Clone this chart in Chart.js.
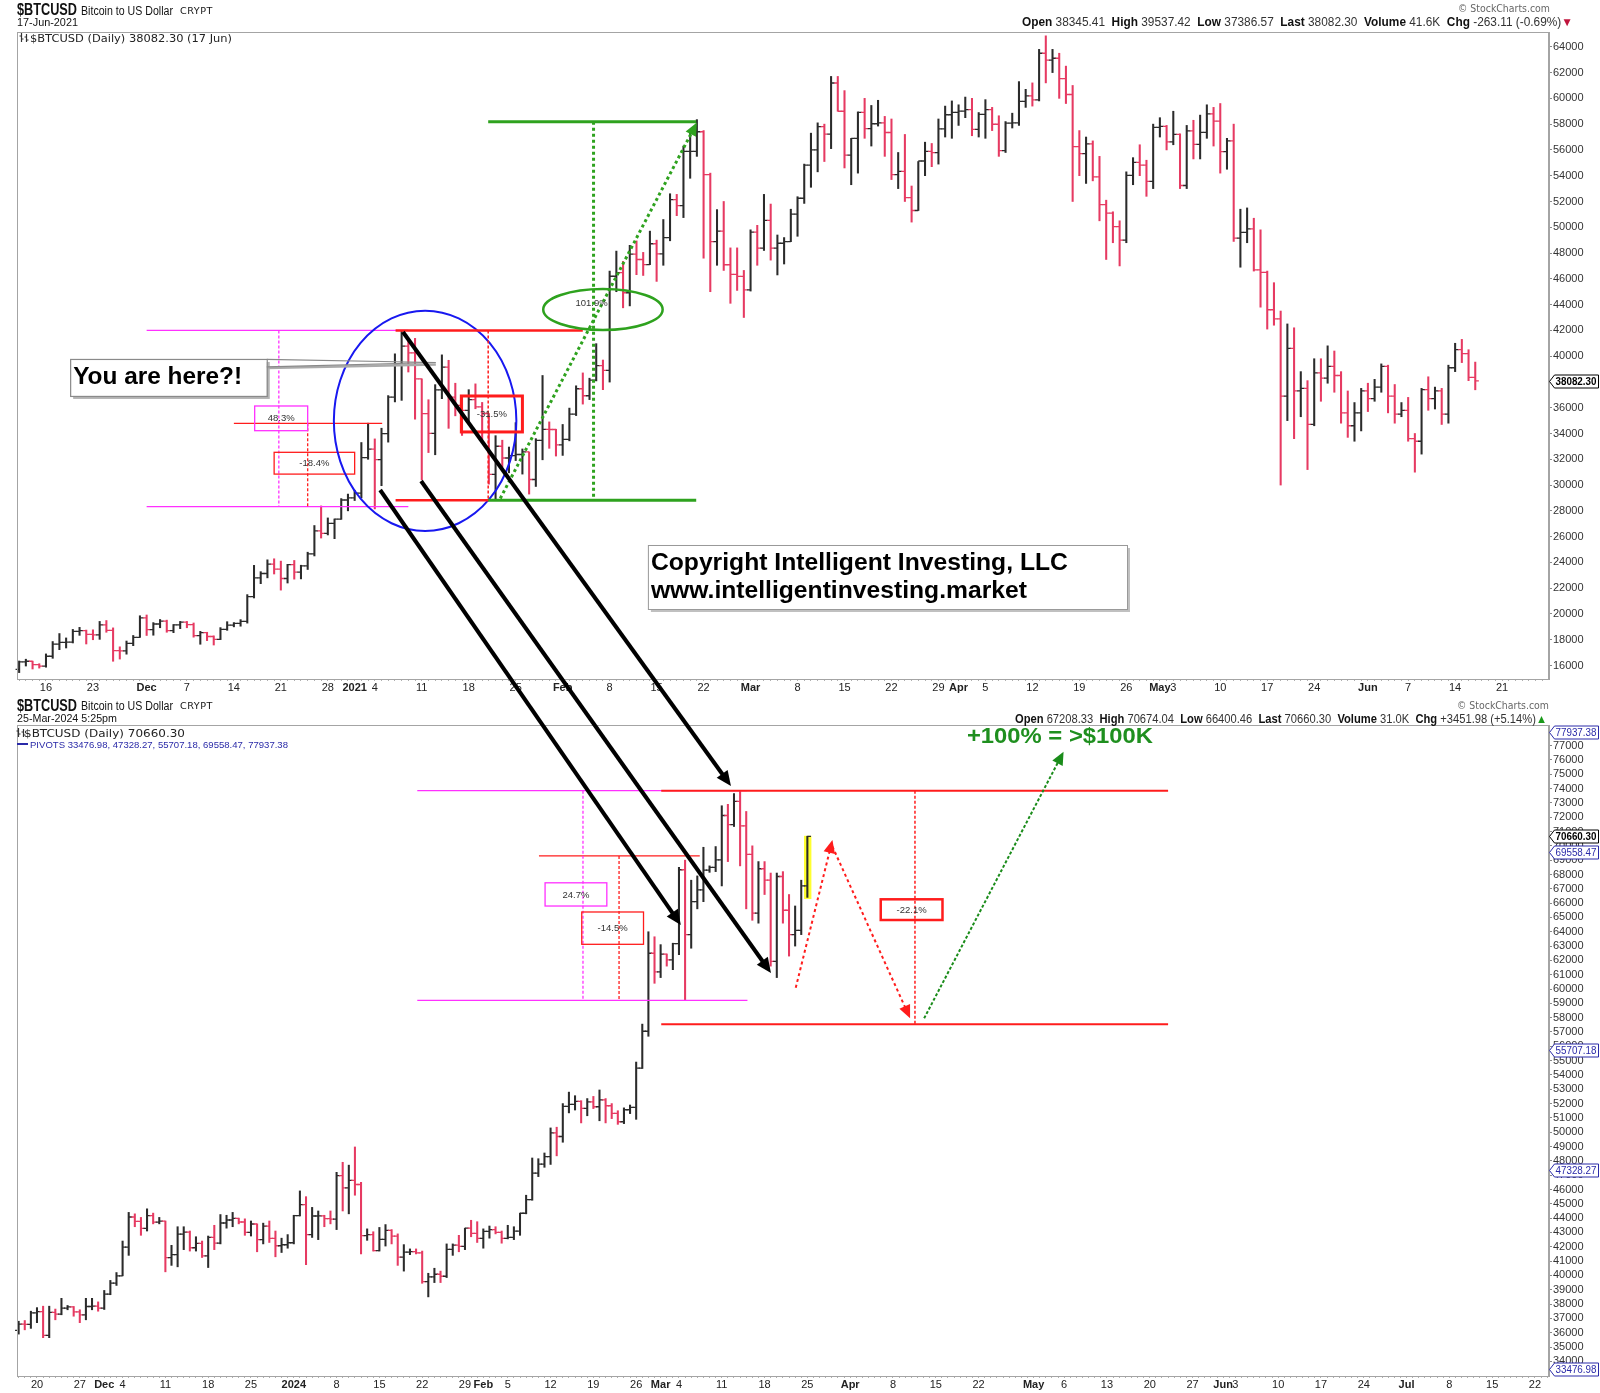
<!DOCTYPE html>
<html>
<head>
<meta charset="utf-8">
<title>$BTCUSD daily bars</title>
<script src="https://cdn.jsdelivr.net/npm/chart.js@4.4.1/dist/chart.umd.min.js"></script>
<style>
  html, body { margin: 0; padding: 0; background: #fff; }
  body { position: relative; width: 1600px; height: 1393px; overflow: hidden; font-family: "Liberation Sans", Arial, sans-serif; color: #111; }
  canvas { position: absolute; left: 0; }
  #topChart { top: 0; }
  #botChart { top: 690px; }
  #overlay { top: 0; z-index: 5; pointer-events: none; }
  .h { position: absolute; white-space: nowrap; line-height: 1; transform-origin: left center; z-index: 3; }
  .sym { font-weight: bold; font-size: 16px; }
  .name { font-size: 12.5px; }
  .exch { font-family: "DejaVu Sans", sans-serif; font-size: 9px; letter-spacing: .5px; }
  .date { font-size: 11.5px; }
  .sc { font-family: "DejaVu Sans", sans-serif; font-size: 10px; color: #666; }
  .stats { font-size: 12px; color: #333; }
  .stats b { color: #111; }
  .leg { font-family: "DejaVu Sans", sans-serif; font-size: 10.5px; color: #222; }
  .piv { font-size: 9.5px; color: #2a2aa8; }
  .icon { position: absolute; z-index: 3; }
</style>
</head>
<body>
<canvas id="topChart" width="1600" height="700"></canvas>
<canvas id="botChart" width="1600" height="703"></canvas>
<canvas id="overlay" width="1600" height="1393"></canvas>

<!-- top panel header -->
<div class="h sym" style="left:17px;top:2px" data-w="60">$BTCUSD</div>
<div class="h name" style="left:81px;top:4.5px" data-w="92">Bitcoin to US Dollar</div>
<div class="h exch" style="left:180px;top:6.5px" data-w="33">CRYPT</div>
<div class="h date" style="left:17px;top:16.5px" data-w="61">17-Jun-2021</div>
<div class="h sc" data-r="1550" style="top:4px" data-w="92">© StockCharts.com</div>
<div class="h stats" data-r="1573" style="top:16px" data-w="551"><b>Open</b> 38345.41 &nbsp;<b>High</b> 39537.42 &nbsp;<b>Low</b> 37386.57 &nbsp;<b>Last</b> 38082.30 &nbsp;<b>Volume</b> 41.6K &nbsp;<b>Chg</b> -263.11 (-0.69%)<span style="color:#c0143c">▼</span></div>
<svg class="icon" style="left:19px;top:32px" width="10" height="11"><path d="M2.5 1v9M0.5 4h2M2.5 7h2M7.5 2v8M5.5 5h2M7.5 8h2" stroke="#333" stroke-width="1.2" fill="none"/></svg>
<div class="h leg" style="left:30px;top:32.5px" data-w="202">$BTCUSD (Daily) 38082.30 (17 Jun)</div>

<!-- bottom panel header -->
<div class="h sym" style="left:17px;top:697.5px" data-w="60">$BTCUSD</div>
<div class="h name" style="left:81px;top:700px" data-w="92">Bitcoin to US Dollar</div>
<div class="h exch" style="left:180px;top:702px" data-w="33">CRYPT</div>
<div class="h date" style="left:17px;top:713px" data-w="100">25-Mar-2024 5:25pm</div>
<div class="h sc" data-r="1549" style="top:700.7px" data-w="92">© StockCharts.com</div>
<div class="h stats" data-r="1547" style="top:713px" data-w="532"><b>Open</b> 67208.33 &nbsp;<b>High</b> 70674.04 &nbsp;<b>Low</b> 66400.46 &nbsp;<b>Last</b> 70660.30 &nbsp;<b>Volume</b> 31.0K &nbsp;<b>Chg</b> +3451.98 (+5.14%)<span style="color:#1a9a1a">▲</span></div>
<svg class="icon" style="left:16px;top:727px" width="10" height="11"><path d="M2.5 1v9M0.5 4h2M2.5 7h2M7.5 2v8M5.5 5h2M7.5 8h2" stroke="#333" stroke-width="1.2" fill="none"/></svg>
<div class="h leg" style="left:24px;top:727.5px" data-w="161">$BTCUSD (Daily) 70660.30</div>
<svg class="icon" style="left:17px;top:742px" width="12" height="4"><path d="M0 2h11" stroke="#2a2aa8" stroke-width="2"/></svg>
<div class="h piv" style="left:30px;top:739.5px" data-w="258">PIVOTS 33476.98, 47328.27, 55707.18, 69558.47, 77937.38</div>

<script>
// ---- top panel: $BTCUSD daily, 12 Nov 2020 (day 0) to 17 Jun 2021 (day 217)
const topOpen = [
  15700,16290,16330,16070,15960,16720,17660,17800,17820,18650,18700,18420,18370,19160,18730,17150,17140,17720,18180,
  19700,18790,19220,19450,18700,19150,19360,19170,18320,18550,18250,18030,18800,19140,19270,19430,21340,22800,23140,23860,23480,22750,23820,23240,23730,24660,26440,26250,27030,27360,28840,
  29000,29370,32130,32780,31970,33990,36820,39370,40780,40250,38240,35540,34010,37390,39150,36820,36180,35790,36630,36070,35550,30830,33010,32100,32290,32370,32570,30430,33470,34320,34310,
  33110,33540,35510,37470,36930,38140,39270,38900,46200,46480,44920,47910,47500,47100,48720,47940,49200,52150,51680,55890,55890,57410,54090,48890,49700,47090,46340,46190,
  45140,49630,48380,50540,48380,48760,48880,51020,52250,54820,56010,57810,57230,61190,59000,55600,56900,58910,57650,58030,58100,57350,54080,54340,52300,51300,55140,55880,55790,57630,58730,
  58920,59010,59130,57600,58760,59130,57990,55950,58080,58100,59770,60200,59890,63500,62970,63110,61530,60300,56250,55720,56470,53910,51760,51090,50050,49000,54020,55030,54820,53560,
  57750,57830,56630,57210,53240,57470,56430,57360,58800,58230,55860,56700,49150,49600,49880,46700,46500,43600,42900,36900,40600,37300,37500,34700,38700,38300,39200,38500,35600,34600,35600,
  37300,36700,37600,39200,36900,35500,35800,33600,33400,37400,36700,37300,35500,39100,40500,40200,38350
];
const topHigh = [
  16350,16490,16340,16140,16900,17860,18480,18140,18800,18960,18750,18770,19420,19490,18920,17450,17900,18330,19860,
  19920,19330,19570,19520,19180,19420,19420,19300,18650,18580,18300,18940,19400,19330,19560,21500,23770,23280,24200,24280,24100,23850,24150,23780,24790,26860,28380,27450,27370,28950,29300,
  29600,33300,34800,33580,34410,36940,40180,41950,41350,41380,38240,36620,37790,40100,39680,37900,36800,37400,37850,36410,35550,33830,33480,32950,34840,32800,32570,33600,38500,34900,34330,
  34700,35970,37700,38700,38290,40970,39700,46600,48150,47350,48600,48940,48050,49700,49000,50600,52600,52550,56300,57500,58350,57500,54200,51370,52000,48400,48400,46650,
  49800,50150,52550,51800,49400,49200,51400,52370,54900,57300,58100,58000,61700,61700,60600,56900,58950,60000,59450,59850,58600,58400,55800,57200,53200,55100,56600,56500,58400,59400,59800,
  59500,60100,60000,58900,59900,59300,58650,58200,58850,61300,60700,61200,63800,64850,63800,63500,62500,61000,57500,57000,56700,55500,52100,51200,50500,54300,55400,56400,55200,58000,
  58500,57900,59000,57250,57900,58300,58700,59500,59300,59600,56900,58000,51400,51500,50700,49800,46600,45700,43500,42500,42200,38800,38100,39800,39800,40800,40400,38800,37300,36400,37500,
  37900,38200,39400,39300,37800,36400,36800,34000,37500,38400,37600,37500,39300,41000,41300,40500,39540
];
const topLow = [
  15450,15960,15730,15800,15870,16560,17230,17360,17750,18340,17670,18000,18030,18580,16330,16500,16880,17540,18180,
  18330,18350,18930,18580,18550,18860,18930,18200,17650,17930,17590,18010,18730,19000,19050,19290,21240,22350,22800,23100,21850,22400,22700,22720,23450,24500,25890,26130,25840,27340,28000,
  28800,29000,32000,28150,29950,33330,36450,36570,38770,35110,30420,32520,32350,36700,34400,35370,33850,34780,35920,33400,30070,28850,31400,30950,31900,30850,29300,29890,31960,32850,32250,
  32300,33430,35390,36280,36630,38080,37400,37990,45000,43750,43900,46320,46260,47100,45800,47050,48950,50900,50750,53800,55500,47600,45000,47050,46650,44100,45100,43000,
  45050,47050,48200,47450,46300,47150,48880,49300,51850,53100,54300,55100,56100,59000,54600,53300,54200,56900,56300,57850,55500,53700,53000,52000,50400,51300,54000,54700,54900,57000,56900,
  57900,58500,57100,57000,56900,57500,55500,55800,57700,57900,59300,59400,59800,61200,62000,60000,59600,52000,54000,53400,53600,50500,47500,48800,47000,48800,53300,54000,52400,53000,
  57000,56000,56400,53000,53000,55300,55300,56900,56300,54200,54500,48900,46900,48800,46600,43800,42100,42400,30000,35000,33600,35300,31200,34600,36500,37900,37200,34800,33700,33400,34200,
  35700,36500,37200,35600,34800,35300,33400,31000,32400,35800,35900,34700,34800,38800,39500,38100,37390
];
const topClose = [
  16290,16330,16070,15960,16720,17660,17800,17820,18650,18700,18420,18370,19160,18730,17150,17140,17720,18180,19700,
  18790,19220,19450,18700,19150,19360,19170,18320,18550,18250,18030,18800,19140,19270,19430,21340,22800,23140,23860,23480,22750,23820,23240,23730,24660,26440,26250,27030,27360,28840,29000,
  29370,32130,32780,31970,33990,36820,39370,40780,40250,38240,35540,34010,37390,39150,36820,36180,35790,36630,36070,35550,30830,33010,32100,32290,32370,32570,30430,33470,34320,34310,33110,
  33540,35510,37470,36930,38140,39270,38900,46200,46480,44920,47910,47500,47100,48720,47940,49200,52150,51680,55890,55890,57410,54090,48890,49700,47090,46340,46190,45140,
  49630,48380,50540,48380,48760,48880,51020,52250,54820,56010,57810,57230,61190,59000,55600,56900,58910,57650,58030,58100,57350,54080,54340,52300,51300,55140,55880,55790,57630,58730,58920,
  59010,59130,57600,58760,59130,57990,55950,58080,58100,59770,60200,59890,63500,62970,63110,61530,60300,56250,55720,56470,53910,51760,51090,50050,49000,54020,55030,54820,53560,57750,
  57830,56630,57210,53240,57470,56430,57360,58800,58230,55860,56700,49150,49600,49880,46700,46500,43600,42900,36900,40600,37300,37500,34700,38700,38300,39200,38500,35600,34600,35600,37300,
  36700,37600,39200,36900,35500,35800,33600,33400,37400,36700,37300,35500,39100,40500,40200,38350,38080
];
const topTickDays = [4,11,19,25,32,39,46,50,53,60,67,74,81,88,95,102,109,116,123,130,137,140,144,151,158,165,170,172,179,186,193,201,207,214,221];
const topTickText = ['16','23','Dec','7','14','21','28','2021','4','11','18','25','Feb','8','15','22','Mar','8','15','22','29','Apr','5','12','19','26','May','3','10','17','24','Jun','7','14','21'];
const topPriceTicks = [16000,18000,20000,22000,24000,26000,28000,30000,32000,34000,36000,38000,40000,42000,44000,46000,48000,50000,52000,54000,56000,58000,60000,62000,64000];

// ---- bottom panel: $BTCUSD daily, 17 Nov 2023 (day 0) to 25 Mar 2024 (day 129)
const botOpen = [
  36160,36600,36580,37380,37470,35810,37420,37290,37720,37800,37460,37250,37830,37860,
  37720,38690,39460,39970,41980,44080,43770,43290,44170,43720,43790,41240,41450,42890,43020,41930,42240,41360,42660,42260,43660,43870,43990,43730,43010,43590,42500,43440,42580,42070,42140,
  42280,44180,44950,42850,44150,44160,43970,43930,46970,46110,46630,46350,42780,42850,41730,42510,43150,42740,41280,41620,41660,41580,39570,39900,40080,39940,41820,42120,42030,43300,42940,
  42580,43080,43200,43010,42580,42660,43090,44340,45290,47150,47770,48290,49960,49700,51800,51940,52160,51660,52120,51780,52260,51850,51320,50730,51570,51730,54480,57050,62500,
  61200,62440,62030,63170,68330,63800,66100,66930,68300,68500,69020,72120,71480,73100,71400,69400,65300,68400,67600,61930,67860,65500,63800,64100,67210
];
const botHigh = [
  36800,36850,37500,37750,37850,37850,37650,38400,37900,37830,37600,38400,38400,38150,
  38950,39650,40200,42400,44400,44300,44050,44650,44350,44050,43800,42100,43400,43400,43100,42700,42400,42750,43500,44250,44200,44400,44000,43950,43800,43600,43650,43800,43100,42600,42850,
  44200,45900,45500,44750,44500,44200,44500,47200,47900,47700,48970,46500,43250,43050,43350,43550,43200,42900,42150,41850,41850,41700,40150,40500,40300,42200,42200,42800,43300,43850,43750,
  43250,43450,43400,43100,43500,43400,44350,45600,48200,48150,48550,50300,50350,52000,52800,52550,52200,52350,52500,52950,52350,52000,51500,51700,51900,54900,57550,64000,63650,
  63100,62450,63200,68500,69000,67600,67900,69900,68600,69950,72800,72900,73650,73800,72400,70000,68900,68900,68100,68100,68200,66600,65800,67600,70670
];
const botLow = [
  35900,36200,36300,36700,35650,35650,36900,37250,37600,37150,36700,36900,37600,37500,
  37620,38650,39300,39970,41400,43400,42800,43100,43600,43600,40250,40700,40600,41800,41700,41700,41250,40550,41800,42200,43300,43400,43600,42800,42750,41650,42200,42300,41300,41600,41900,
  42200,44150,40750,42650,42500,43400,43600,43200,44500,44300,45600,41500,42450,41700,41700,42050,42200,40700,40300,41450,41500,39450,38500,39500,39500,39850,41400,41650,41800,42700,42300,
  41900,42600,42900,42250,42550,42500,42800,44300,45250,46900,47550,47750,48350,49300,51350,51550,50650,51150,51650,50800,50650,50950,50550,50600,51300,50900,54450,56700,60400,
  60800,61600,61350,62400,59200,62850,65600,66100,68150,68200,67200,68900,71350,68600,65600,64800,64600,66600,61600,60800,64600,62300,63000,63800,66400
];
const botClose = [
  36600,36580,37380,37470,35810,37420,37290,37720,37800,37460,37250,37830,37860,37720,
  38690,39460,39970,41980,44080,43770,43290,44170,43720,43790,41240,41450,42890,43020,41930,42240,41360,42660,42260,43660,43870,43990,43730,43010,43590,42500,43440,42580,42070,42140,42280,
  44180,44950,42850,44150,44160,43970,43930,46970,46110,46630,46350,42780,42850,41730,42510,43150,42740,41280,41620,41660,41580,39570,39900,40080,39940,41820,42120,42030,43300,42940,42580,
  43080,43200,43010,42580,42660,43090,44340,45290,47150,47770,48290,49960,49700,51800,51940,52160,51660,52120,51780,52260,51850,51320,50730,51570,51730,54480,57050,62500,61200,
  62440,62030,63170,68330,63800,66100,66930,68300,68500,69020,72120,71480,73100,71400,69400,65300,68400,67600,61930,67860,65500,63800,64100,67210,70660
];
const botTickDays = [3,10,14,17,24,31,38,45,52,59,66,73,76,80,87,94,101,105,108,115,122,129,136,143,150,157,166,171,178,185,192,197,199,206,213,220,227,234,241,248];
const botTickText = ['20','27','Dec','4','11','18','25','2024','8','15','22','29','Feb','5','12','19','26','Mar','4','11','18','25','Apr','8','15','22','May','6','13','20','27','Jun','3','10','17','24','Jul','8','15','22'];
const botPriceTicks = [34000,35000,36000,37000,38000,39000,40000,41000,42000,43000,44000,45000,46000,47000,48000,49000,50000,51000,52000,53000,54000,55000,56000,57000,58000,59000,60000,61000,62000,63000,64000,65000,66000,67000,68000,69000,70000,71000,72000,73000,74000,75000,76000,77000];
const botPivots = [33476.98, 47328.27, 55707.18, 69558.47, 77937.38];

const UP = '#2b2b2b', DOWN = '#e63a62';
const MAG = '#ff30ff', RED = '#ff1c1c', GREEN = '#2ea21e', BLUE = '#1818f0', PIV = '#2a2aa8';
const FONT = '"Liberation Sans", Arial, sans-serif';

// drawings, in day / price units of each panel
const topMarks = [
  {k: 'line', x0: 19, y0: 42000, x1: 58, y1: 42000, c: MAG, w: 1.3},
  {k: 'line', x0: 19, y0: 28320, x1: 58, y1: 28320, c: MAG, w: 1.3},
  {k: 'line', x0: 38.7, y0: 42000, x1: 38.7, y1: 28320, c: MAG, w: 1.3, dash: [3, 2]},
  {k: 'line', x0: 32, y0: 34790, x1: 54.1, y1: 34790, c: RED, w: 1.3},
  {k: 'line', x0: 43, y0: 34790, x1: 43, y1: 28320, c: RED, w: 1.3, dash: [3, 2]},
  {k: 'box', x0: 35.1, y0: 36134, x1: 43.0, y1: 34218, c: MAG, w: 1.3, text: '48.3%'},
  {k: 'box', x0: 38.0, y0: 32540, x1: 50.0, y1: 30850, c: RED, w: 1.3, text: '-18.4%'},
  {k: 'ellipse', x0: 46.9, y0: 43527, x1: 74.1, y1: 26436, c: BLUE, w: 2},
  {k: 'line', x0: 56.1, y0: 42000, x1: 84, y1: 42000, c: RED, w: 2.5},
  {k: 'line', x0: 56.1, y0: 28820, x1: 70, y1: 28820, c: RED, w: 2.5},
  {k: 'line', x0: 69.9, y0: 42000, x1: 69.9, y1: 28820, c: RED, w: 1.5, dash: [3, 2]},
  {k: 'box', x0: 65.9, y0: 36910, x1: 75.0, y1: 34120, c: RED, w: 3, text: '-31.5%'},
  {k: 'line', x0: 69.9, y0: 58185, x1: 100.9, y1: 58185, c: GREEN, w: 3},
  {k: 'line', x0: 69.9, y0: 28820, x1: 100.9, y1: 28820, c: GREEN, w: 3},
  {k: 'line', x0: 85.6, y0: 58185, x1: 85.6, y1: 28820, c: GREEN, w: 3, dash: [3, 3]},
  {k: 'arrow', x0: 71.7, y0: 28960, x1: 101, y1: 58120, c: GREEN, w: 3, dash: [3, 3], head: 13},
  {k: 'ellipse', x0: 78.1, y0: 45210, x1: 95.9, y1: 42030, c: GREEN, w: 2.5},
  {k: 'text', x: 85.3, y: 44080, text: '101.9%'},
  {k: 'callout', x0: 7.6, y0: 39783, x1: 36.9, y1: 36913, px: 62.1, py: 39508, text: 'You are here?!'},
  {k: 'note', x0: 93.7, y0: 25350, x1: 165.1, y1: 20385,
    lines: ['Copyright Intelligent Investing, LLC', 'www.intelligentinvesting.market'], widths: [417, 376]}
];
const botMarks = [
  {k: 'fill', under: true, x0: 128.45, y0: 70700, x1: 129.66, y1: 66290, c: '#ffff30'},
  {k: 'line', x0: 65.2, y0: 73850, x1: 119.1, y1: 73850, c: MAG, w: 1.3},
  {k: 'line', x0: 65.2, y0: 59212, x1: 119.2, y1: 59212, c: MAG, w: 1.3},
  {k: 'line', x0: 85.1, y0: 69297, x1: 111.4, y1: 69297, c: RED, w: 1.3},
  {k: 'line', x0: 92.3, y0: 73850, x1: 92.3, y1: 59212, c: MAG, w: 1.3, dash: [3, 2]},
  {k: 'line', x0: 98.2, y0: 69297, x1: 98.2, y1: 59212, c: RED, w: 1.3, dash: [3, 2]},
  {k: 'box', x0: 86.1, y0: 67418, x1: 96.2, y1: 65797, c: MAG, w: 1.3, text: '24.7%'},
  {k: 'box', x0: 92.1, y0: 65380, x1: 102.2, y1: 63123, c: RED, w: 1.3, text: '-14.5%'},
  {k: 'line', x0: 105.1, y0: 73850, x1: 188, y1: 73850, c: RED, w: 2},
  {k: 'line', x0: 105.1, y0: 57535, x1: 188, y1: 57535, c: RED, w: 2},
  {k: 'line', x0: 146.6, y0: 73850, x1: 146.6, y1: 57535, c: RED, w: 1.5, dash: [3, 2]},
  {k: 'box', x0: 141.0, y0: 66266, x1: 151.1, y1: 64820, c: RED, w: 2.5, text: '-22.1%'},
  {k: 'arrow', x0: 127.1, y0: 60093, x1: 133.1, y1: 70407, c: RED, w: 2, dash: [3, 3], head: 13},
  {k: 'arrow', x0: 133.1, y0: 69950, x1: 145.8, y1: 57960, c: RED, w: 2, dash: [3, 3], head: 13},
  {k: 'arrow', x0: 148.1, y0: 57956, x1: 170.9, y1: 76574, c: '#1a8c1a', w: 2, dash: [3, 2], head: 13},
  {k: 'text', x: 155.1, y: 77182, text: '+100% = >$100K', font: 'bold 22px ' + FONT, c: '#1f8f1f', align: 'left', base: 'alphabetic', fitW: 186}
];
// the three long arrows that run from the 2021 panel down into the 2024 panel
const crossArrows = [
  {from: [53.8, 29617], to: [108.3, 64471]},
  {from: [59.9, 30315], to: [123.05, 61119]},
  {from: [57.2, 41874], to: [116.5, 74179]}
];

function arrow(ctx, x0, y0, x1, y1, c, w, dash, head) {
  const a = Math.atan2(y1 - y0, x1 - x0);
  const hl = head || 12, hw = hl * 0.45;
  const bx = x1 - Math.cos(a) * hl * 0.8, by = y1 - Math.sin(a) * hl * 0.8;
  ctx.save();
  ctx.strokeStyle = c; ctx.lineWidth = w; ctx.setLineDash(dash || []);
  ctx.beginPath(); ctx.moveTo(x0, y0); ctx.lineTo(bx, by); ctx.stroke();
  ctx.setLineDash([]); ctx.fillStyle = c;
  const hx = x1 - Math.cos(a) * hl, hy = y1 - Math.sin(a) * hl;
  ctx.beginPath(); ctx.moveTo(x1, y1);
  ctx.lineTo(hx + Math.sin(a) * hw, hy - Math.cos(a) * hw);
  ctx.lineTo(hx - Math.sin(a) * hw, hy + Math.cos(a) * hw);
  ctx.closePath(); ctx.fill();
  ctx.restore();
}

function fitText(ctx, text, x, y, width) {
  const nat = ctx.measureText(text).width;
  ctx.save(); ctx.translate(x, y); ctx.scale(width / nat, 1); ctx.fillText(text, 0, 0); ctx.restore();
}

function drawMark(chart, m) {
  const ctx = chart.ctx, X = v => chart.scales.x.getPixelForValue(v), Y = v => chart.scales.y.getPixelForValue(v);
  ctx.save();
  ctx.setLineDash(m.dash || []);
  ctx.strokeStyle = m.c; ctx.lineWidth = m.w || 1;
  if (m.k === 'line') {
    ctx.beginPath(); ctx.moveTo(X(m.x0), Y(m.y0)); ctx.lineTo(X(m.x1), Y(m.y1)); ctx.stroke();
  } else if (m.k === 'fill') {
    ctx.fillStyle = m.c; ctx.fillRect(X(m.x0), Y(m.y0), X(m.x1) - X(m.x0), Y(m.y1) - Y(m.y0));
  } else if (m.k === 'box') {
    const x0 = X(m.x0), y0 = Y(m.y0), x1 = X(m.x1), y1 = Y(m.y1);
    ctx.strokeRect(x0, y0, x1 - x0, y1 - y0);
    ctx.fillStyle = '#333'; ctx.font = '9.5px ' + FONT; ctx.textAlign = 'center'; ctx.textBaseline = 'middle';
    ctx.fillText(m.text, (x0 + x1) / 2, (y0 + y1) / 2 + 0.5);
  } else if (m.k === 'ellipse') {
    const x0 = X(m.x0), y0 = Y(m.y0), x1 = X(m.x1), y1 = Y(m.y1);
    ctx.beginPath(); ctx.ellipse((x0 + x1) / 2, (y0 + y1) / 2, (x1 - x0) / 2, (y1 - y0) / 2, 0, 0, Math.PI * 2); ctx.stroke();
  } else if (m.k === 'arrow') {
    arrow(ctx, X(m.x0), Y(m.y0), X(m.x1), Y(m.y1), m.c, m.w, m.dash, m.head);
  } else if (m.k === 'text') {
    ctx.fillStyle = m.c || '#333'; ctx.font = m.font || ('9.5px ' + FONT);
    ctx.textAlign = m.align || 'center'; ctx.textBaseline = m.base || 'middle';
    if (m.fitW) fitText(ctx, m.text, X(m.x), Y(m.y), m.fitW); else ctx.fillText(m.text, X(m.x), Y(m.y));
  } else if (m.k === 'callout') {
    const x0 = X(m.x0), y0 = Y(m.y0), x1 = X(m.x1), y1 = Y(m.y1), px = X(m.px), py = Y(m.py);
    ctx.fillStyle = '#b4b4b4'; ctx.fillRect(x0 + 3, y0 + 3, x1 - x0, y1 - y0);
    ctx.strokeStyle = '#aaa'; ctx.lineWidth = 2.5;
    ctx.beginPath(); ctx.moveTo(x1, y0 + 9); ctx.lineTo(px, py + 2); ctx.stroke();
    ctx.fillStyle = '#fff'; ctx.fillRect(x0, y0, x1 - x0, y1 - y0);
    ctx.strokeStyle = '#8a8a8a'; ctx.lineWidth = 1.2;
    ctx.strokeRect(x0 + 0.5, y0 + 0.5, x1 - x0, y1 - y0);
    ctx.beginPath(); ctx.moveTo(x1, y0 + 0.5); ctx.lineTo(px, py); ctx.lineTo(x1, y0 + 8); ctx.stroke();
    ctx.fillStyle = '#000'; ctx.font = 'bold 24px ' + FONT; ctx.textAlign = 'left'; ctx.textBaseline = 'alphabetic';
    fitText(ctx, m.text, x0 + 3, y0 + 25, 169);
  } else if (m.k === 'note') {
    const x0 = X(m.x0), y0 = Y(m.y0), x1 = X(m.x1), y1 = Y(m.y1);
    ctx.fillStyle = '#c0c0c0'; ctx.fillRect(x0 + 3, y0 + 3, x1 - x0, y1 - y0);
    ctx.fillStyle = '#fff'; ctx.fillRect(x0, y0, x1 - x0, y1 - y0);
    ctx.strokeStyle = '#999'; ctx.lineWidth = 1; ctx.strokeRect(x0 + 0.5, y0 + 0.5, x1 - x0, y1 - y0);
    ctx.fillStyle = '#000'; ctx.font = 'bold 23px ' + FONT; ctx.textAlign = 'left'; ctx.textBaseline = 'alphabetic';
    fitText(ctx, m.lines[0], x0 + 3, y0 + 25, m.widths[0]);
    fitText(ctx, m.lines[1], x0 + 3, y0 + 53, m.widths[1]);
  }
  ctx.restore();
}

function priceTag(chart, value, text, color, bold) {
  const ctx = chart.ctx;
  const y = Math.round(chart.scales.y.getPixelForValue(value)) + 0.5;
  const x0 = chart.chartArea.right + 0.5, x1 = 1598.5, h = 6.5;
  ctx.save();
  ctx.beginPath(); ctx.moveTo(x0, y); ctx.lineTo(x0 + 5, y - h); ctx.lineTo(x1, y - h); ctx.lineTo(x1, y + h); ctx.lineTo(x0 + 5, y + h); ctx.closePath();
  ctx.fillStyle = '#fff'; ctx.fill(); ctx.strokeStyle = color; ctx.lineWidth = 1; ctx.stroke();
  ctx.fillStyle = color; ctx.font = (bold ? 'bold ' : '') + '11px ' + FONT; ctx.textBaseline = 'middle'; ctx.textAlign = 'left';
  ctx.fillText(text, x0 + 6, y + 0.5, x1 - x0 - 8);
  ctx.restore();
}

function makePanel(id, p) {
  const allDays = [];
  for (let d = Math.ceil(p.xMin); d <= Math.floor(p.xMax); d++) allDays.push(d);
  const label = v => { const k = p.tickDays.indexOf(v); return k < 0 ? '' : p.tickText[k]; };
  const isBold = t => t !== '' && (isNaN(+t) || +t > 31);
  const plugin = {
    id: 'panelDraw',
    beforeDatasetsDraw(chart) { p.marks.filter(m => m.under).forEach(m => drawMark(chart, m)); },
    afterDatasetsDraw(chart) {
      const ctx = chart.ctx, ys = chart.scales.y, meta = chart.getDatasetMeta(0);
      ctx.save(); ctx.lineWidth = 1.3;
      meta.data.forEach((bar, i) => {
        const x = bar.x;
        ctx.strokeStyle = p.close[i] >= p.open[i] ? UP : DOWN;
        ctx.beginPath();
        const yo = ys.getPixelForValue(p.open[i]), yc = ys.getPixelForValue(p.close[i]);
        ctx.moveTo(x - 3.6, yo); ctx.lineTo(x, yo);
        ctx.moveTo(x, yc); ctx.lineTo(x + 3.6, yc);
        ctx.stroke();
      });
      ctx.restore();
      p.marks.filter(m => !m.under).forEach(m => drawMark(chart, m));
    },
    afterDraw(chart) {
      const a = chart.chartArea, ctx = chart.ctx;
      ctx.save(); ctx.strokeStyle = '#a4a4a4'; ctx.lineWidth = 1;
      ctx.strokeRect(a.left + 0.5, a.top + 0.5, a.right - a.left - 1, a.bottom - a.top);
      ctx.restore();
      p.tags.forEach(t => priceTag(chart, t.v, t.t, t.c, t.bold));
    }
  };
  return new Chart(document.getElementById(id), {
    type: 'bar',
    data: {
      datasets: [{
        data: p.high.map((h, i) => ({x: i, y: [p.low[i], h]})),
        backgroundColor: p.close.map((c, i) => c >= p.open[i] ? UP : DOWN),
        barThickness: 1.4,
        borderWidth: 0,
        grouped: false
      }]
    },
    options: {
      responsive: false,
      animation: false,
      events: [],
      layout: {padding: {top: p.padTop, left: 17, right: 0, bottom: 0}},
      plugins: {legend: {display: false}, tooltip: {enabled: false}},
      scales: {
        x: {
          type: 'linear', min: p.xMin, max: p.xMax, offset: false,
          afterBuildTicks: s => { s.ticks = allDays.map(v => ({value: v})); },
          afterFit: s => { s.height = p.xAxisH; },
          grid: {display: true, offset: false, drawOnChartArea: false, drawTicks: true, tickLength: 2, color: '#b0b0b0'},
          border: {display: true, color: '#a4a4a4'},
          ticks: {
            autoSkip: false, maxRotation: 0, minRotation: 0, padding: 0, color: '#222',
            callback: v => label(v),
            font: c => ({family: FONT, size: 11, weight: isBold(label(c.tick ? c.tick.value : -1)) ? 'bold' : 'normal'})
          }
        },
        y: {
          type: 'linear', position: 'right', min: p.yMin, max: p.yMax,
          afterBuildTicks: s => { s.ticks = p.yTicks.map(v => ({value: v})); },
          afterFit: s => { s.width = 51; },
          grid: {display: true, drawOnChartArea: false, drawTicks: true, tickLength: 3, color: '#888'},
          border: {display: true, color: '#a4a4a4'},
          ticks: {autoSkip: false, padding: 1, color: '#333', font: {family: FONT, size: 11}, callback: v => String(v)}
        }
      }
    },
    plugins: [plugin]
  });
}

const topChart = makePanel('topChart', {
  open: topOpen, high: topHigh, low: topLow, close: topClose,
  xMin: -0.32, xMax: 227.99, yMin: 14954, yMax: 65148, yTicks: topPriceTicks,
  tickDays: topTickDays, tickText: topTickText, padTop: 32, xAxisH: 21,
  marks: topMarks,
  tags: [{v: 38082.30, t: '38082.30', c: '#000', bold: true}]
});

const botChart = makePanel('botChart', {
  open: botOpen, high: botHigh, low: botLow, close: botClose,
  xMin: -0.27, xMax: 250.3, yMin: 32975, yMax: 78439, yTicks: botPriceTicks,
  tickDays: botTickDays, tickText: botTickText, padTop: 35, xAxisH: 17,
  marks: botMarks,
  tags: botPivots.map(v => ({v: v, t: v.toFixed(2), c: PIV, bold: false}))
    .concat([{v: 70660.30, t: '70660.30', c: '#000', bold: true}])
});

// long black arrows linking the two panels
(function () {
  const ctx = document.getElementById('overlay').getContext('2d');
  const botTop = 690;
  crossArrows.forEach(a => {
    const x0 = topChart.scales.x.getPixelForValue(a.from[0]);
    const y0 = topChart.scales.y.getPixelForValue(a.from[1]);
    const x1 = botChart.scales.x.getPixelForValue(a.to[0]);
    const y1 = botChart.scales.y.getPixelForValue(a.to[1]) + botTop;
    arrow(ctx, x0, y0, x1, y1, '#000', 4, null, 15);
  });
})();

// squeeze header texts to the widths they have in the picture
document.querySelectorAll('.h[data-w]').forEach(el => {
  const w = parseFloat(el.dataset.w);
  const nat = el.getBoundingClientRect().width;
  el.style.transform = 'scaleX(' + (w / nat) + ')';
  if (el.dataset.r) el.style.left = (parseFloat(el.dataset.r) - w) + 'px';
});
</script>
</body>
</html>
